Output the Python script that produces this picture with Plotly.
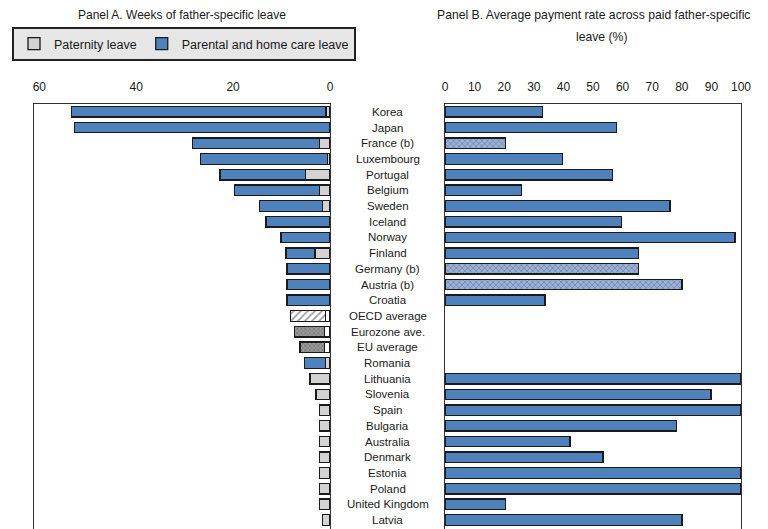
import plotly.graph_objects as go

countries = ["Korea", "Japan", "France (b)", "Luxembourg", "Portugal", "Belgium", "Sweden",
             "Iceland", "Norway", "Finland", "Germany (b)", "Austria (b)", "Croatia",
             "OECD average", "Eurozone ave.", "EU average", "Romania", "Lithuania", "Slovenia",
             "Spain", "Bulgaria", "Australia", "Denmark", "Estonia", "Poland",
             "United Kingdom", "Latvia"]
paternity_weeks = [0.8, 0, 2.1, 0.55, 5.1, 2.1, 1.5, 0, 0, 3.1, 0, 0, 0,
                   1.0, 1.2, 1.2, 1.0, 4.1, 2.9, 2.1, 2.1, 2.1, 2.1, 2.1, 2.1, 2.1, 1.5]
parental_weeks = [52.6, 52.8, 26.3, 26.2, 17.6, 17.6, 13.0, 13.2, 10.1, 6.0, 8.9, 8.9, 8.9,
                  7.1, 6.1, 5.0, 4.3, 0, 0, 0, 0, 0, 0, 0, 0, 0, 0]
payment_rate = [33, 58, 20.5, 39.6, 56.5, 25.8, 76, 59.6, 98, 65.4, 65.4, 80.1, 33.8,
                None, None, None, None, 100, 89.9, 100, 78.3, 42.2, 53.4, 100, 100, 20.5, 80.1]
left_ticks = [60, 40, 20, 0]
right_ticks = [0, 10, 20, 30, 40, 50, 60, 70, 80, 90, 100]

BLUE = "#4F81BD"
GREY = "#D3D3D3"
EDGE = "#1a1a1a"
FONT = "Liberation Sans, Arial, sans-serif"

averages = {"OECD average", "Eurozone ave.", "EU average"}
hatched_b = {"France (b)", "Germany (b)", "Austria (b)"}

pat_colors = ["white" if c in averages else GREY for c in countries]

par_colors, par_shapes, par_fg, par_size = [], [], [], []
for c in countries:
    if c == "OECD average":
        par_colors.append("white"); par_shapes.append("/"); par_fg.append("#555555"); par_size.append(5)
    elif c in ("Eurozone ave.", "EU average"):
        par_colors.append("#9a9a9a"); par_shapes.append("x"); par_fg.append("#555555"); par_size.append(3)
    else:
        par_colors.append(BLUE); par_shapes.append(""); par_fg.append(BLUE); par_size.append(5)

pay_colors, pay_shapes, pay_fg = [], [], []
for c in countries:
    if c in hatched_b:
        pay_colors.append("#97b3dc"); pay_shapes.append("x"); pay_fg.append("#4f78b5")
    else:
        pay_colors.append(BLUE); pay_shapes.append(""); pay_fg.append(BLUE)

fig = go.Figure()
fig.add_trace(go.Bar(
    y=countries, x=paternity_weeks, orientation="h", name="Paternity leave",
    marker=dict(color=pat_colors, line=dict(color=EDGE, width=1.3)),
    width=0.67, xaxis="x", yaxis="y"))
fig.add_trace(go.Bar(
    y=countries, x=parental_weeks, orientation="h", name="Parental and home care leave",
    marker=dict(color=par_colors, line=dict(color=EDGE, width=1.3),
                pattern=dict(shape=par_shapes, fgcolor=par_fg, size=par_size,
                             solidity=0.35, fillmode="overlay")),
    width=0.67, xaxis="x", yaxis="y"))
fig.add_trace(go.Bar(
    y=countries, x=payment_rate, orientation="h", showlegend=False,
    marker=dict(color=pay_colors, line=dict(color=EDGE, width=1.3),
                pattern=dict(shape=pay_shapes, fgcolor=pay_fg, size=4,
                             solidity=0.3, fillmode="overlay")),
    width=0.67, xaxis="x2", yaxis="y2"))

W, H = 768, 529
top = 104
PH = H - top
xd1 = [34 / W, 330 / W]
xd2 = [445 / W, 741 / W]

axis_common = dict(side="top", showgrid=False, zeroline=False, showline=True,
                   linecolor="#333333", linewidth=1.3, ticks="", ticklabelstandoff=7,
                   tickfont=dict(family=FONT, size=12, color="#1a1a1a"), fixedrange=True)
yr = [26.57, -0.5]
y_common = dict(type="category", categoryorder="array", categoryarray=countries,
                range=yr, showticklabels=False, showgrid=False, zeroline=False,
                showline=True, mirror=True, linecolor="#333333", linewidth=1.3,
                ticks="", fixedrange=True)

fig.update_layout(
    width=W, height=H,
    margin=dict(l=0, r=0, t=top, b=0, autoexpand=False),
    paper_bgcolor="white", plot_bgcolor="white",
    barmode="stack",
    font=dict(family=FONT, size=12, color="#1a1a1a"),
    xaxis=dict(domain=xd1, range=[61.1, 0], tickvals=left_ticks,
               ticktext=[str(v) for v in left_ticks], anchor="y", **axis_common),
    xaxis2=dict(domain=xd2, range=[0, 100], tickvals=right_ticks,
                ticktext=[str(v) for v in right_ticks], anchor="y2", **axis_common),
    yaxis=dict(anchor="x", **y_common),
    yaxis2=dict(anchor="x2", **y_common),
    legend=dict(orientation="h", x=12 / W, y=1 + (top - 27) / PH,
                xanchor="left", yanchor="top", bgcolor="#e6e6e6",
                bordercolor="#222222", borderwidth=2,
                font=dict(family=FONT, size=12.5, color="#1a1a1a"),
                traceorder="normal", itemwidth=30),
    showlegend=True,
)

annotations = [
    dict(text="Panel A. Weeks of father-specific leave", x=182 / W, y=1 + (top - 15) / PH,
         xref="paper", yref="paper", showarrow=False, xanchor="center", yanchor="middle",
         font=dict(family=FONT, size=12, color="#1a1a1a")),
    dict(text="Panel B. Average payment rate across paid father-specific",
         x=593 / W, y=1 + (top - 15) / PH,
         xref="paper", yref="paper", showarrow=False, xanchor="center", yanchor="middle",
         font=dict(family=FONT, size=12.2, color="#1a1a1a")),
    dict(text="leave (%)",
         x=601 / W, y=1 + (top - 37) / PH,
         xref="paper", yref="paper", showarrow=False, xanchor="center", yanchor="middle",
         font=dict(family=FONT, size=12.2, color="#1a1a1a")),
]
for c in countries:
    annotations.append(dict(text=c, x=387.5 / W, y=c, xref="paper", yref="y",
                            showarrow=False, xanchor="center", yanchor="middle",
                            font=dict(family=FONT, size=11.5, color="#1a1a1a")))
fig.update_layout(annotations=annotations)

fig.write_html("out.html")
